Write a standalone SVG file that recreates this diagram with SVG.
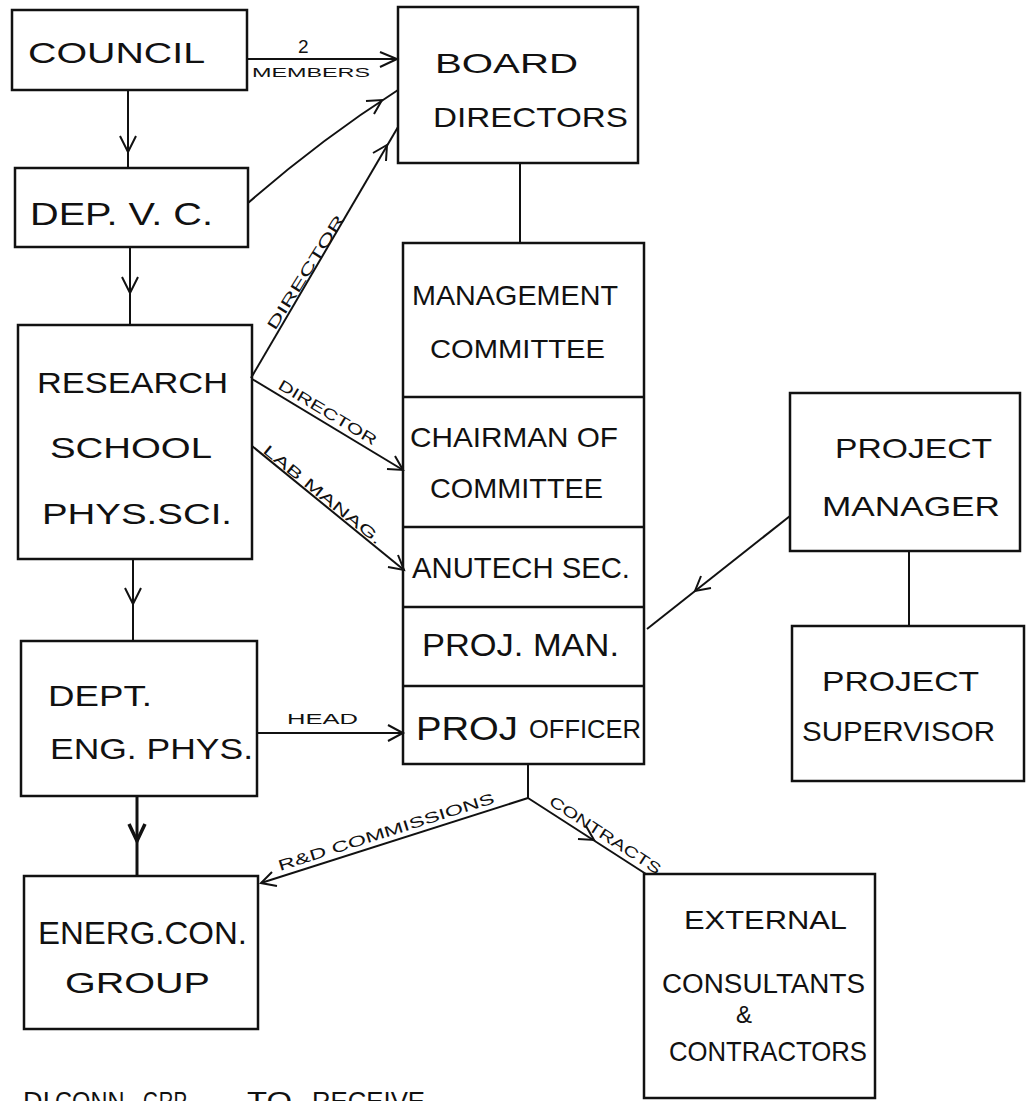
<svg xmlns="http://www.w3.org/2000/svg" width="1027" height="1101" viewBox="0 0 1027 1101">
<style>
.box{fill:none;stroke:#111;stroke-width:2.5}
.ln{fill:none;stroke:#111;stroke-width:2}
.ah{fill:none;stroke:#111;stroke-width:2}
.t{font-family:"Liberation Sans",Arial,sans-serif;fill:#111;font-size:28px}
.l{font-family:"Liberation Sans",Arial,sans-serif;fill:#111;font-size:14px}
.fn{font-family:"Liberation Sans",Arial,sans-serif;fill:#111;font-size:26px}
</style>
<rect width="1027" height="1101" fill="#fff"/>
<g id="connectors">
  <line class="ln" x1="128" y1="90" x2="128" y2="168"/>
  <polyline class="ah" points="120,136 128,152 136,136"/>
  <line class="ln" x1="130" y1="247" x2="130" y2="325"/>
  <polyline class="ah" points="122,277 130,293 138,277"/>
  <line class="ln" x1="133" y1="559" x2="133" y2="641"/>
  <polyline class="ah" points="125,588 133,604 141,588"/>
  <line class="ln" x1="137" y1="796" x2="137" y2="876" style="stroke-width:3"/>
  <polyline class="ah" points="129,824 137,841 145,824" style="stroke-width:3.5"/>
  <line class="ln" x1="247" y1="59" x2="398" y2="59"/>
  <polyline class="ah" points="380,52 397,59 380,67"/>
  <path class="ln" d="M248,203 Q320,140 398,90"/>
  <polyline class="ah" points="366,101 382,100 374,114"/>
  <line class="ln" x1="251" y1="378" x2="398" y2="127"/>
  <polyline class="ah" points="373,153 387,145 386,161"/>
  <line class="ln" x1="252" y1="379" x2="403" y2="470"/>
  <polyline class="ah" points="395,456 403,470 387,469"/>
  <line class="ln" x1="252" y1="446" x2="404" y2="570"/>
  <polyline class="ah" points="398,555 404,570 388,567"/>
  <line class="ln" x1="257" y1="733" x2="403" y2="733"/>
  <polyline class="ah" points="388,725 403,733 388,741"/>
  <line class="ln" x1="520" y1="163" x2="520" y2="243"/>
  <line class="ln" x1="909" y1="551" x2="909" y2="626"/>
  <line class="ln" x1="790" y1="516" x2="647" y2="629"/>
  <polyline class="ah" points="711,588 695,591 701,576"/>
  <line class="ln" x1="528" y1="764" x2="528" y2="798"/>
  <line class="ln" x1="528" y1="798" x2="261" y2="883"/>
  <polyline class="ah" points="277,886 261,883 272,872"/>
  <line class="ln" x1="528" y1="798" x2="646" y2="874"/>
  <polyline class="ah" points="586,826 594,840 578,839"/>
  <text class="l" x="298" y="53" style="font-size:19px">2</text>
  <text class="l" x="252" y="77" textLength="118" lengthAdjust="spacingAndGlyphs" style="font-size:13px">MEMBERS</text>
  <text class="l" transform="translate(275,331) rotate(-58)" textLength="132" lengthAdjust="spacingAndGlyphs" style="font-size:15px">DIRECTOR</text>
  <text class="l" transform="translate(277,388) rotate(31)" textLength="112" lengthAdjust="spacingAndGlyphs" style="font-size:15px">DIRECTOR</text>
  <text class="l" transform="translate(262,452) rotate(39)" textLength="148" lengthAdjust="spacingAndGlyphs" style="font-size:15px">LAB MANAG.</text>
  <text class="l" x="287" y="724" textLength="71" lengthAdjust="spacingAndGlyphs" style="font-size:15px">HEAD</text>
  <text class="l" transform="translate(280,871) rotate(-17.6)" textLength="226" lengthAdjust="spacingAndGlyphs" style="font-size:15px">R&amp;D COMMISSIONS</text>
  <text class="l" transform="translate(548,804) rotate(33)" textLength="130" lengthAdjust="spacingAndGlyphs" style="font-size:15px">CONTRACTS</text>
</g>
<g id="council">
  <rect class="box" x="12" y="10" width="235" height="80"/>
  <text class="t" x="28" y="63" textLength="177" lengthAdjust="spacingAndGlyphs" style="font-size:29px">COUNCIL</text>
</g>
<g id="board-directors">
  <rect class="box" x="398" y="7" width="240" height="156"/>
  <text class="t" x="435" y="73" textLength="143" lengthAdjust="spacingAndGlyphs">BOARD</text>
  <text class="t" x="433" y="127" textLength="195" lengthAdjust="spacingAndGlyphs">DIRECTORS</text>
</g>
<g id="dep-vc">
  <rect class="box" x="15" y="168" width="233" height="79"/>
  <text class="t" x="30" y="225" textLength="183" lengthAdjust="spacingAndGlyphs" style="font-size:31px">DEP. V. C.</text>
</g>
<g id="research-school">
  <rect class="box" x="18" y="325" width="234" height="234"/>
  <text class="t" x="37" y="393" textLength="191" lengthAdjust="spacingAndGlyphs" style="font-size:30px">RESEARCH</text>
  <text class="t" x="50" y="458" textLength="162" lengthAdjust="spacingAndGlyphs" style="font-size:30px">SCHOOL</text>
  <text class="t" x="42" y="524" textLength="190" lengthAdjust="spacingAndGlyphs" style="font-size:30px">PHYS.SCI.</text>
</g>
<g id="dept-eng-phys">
  <rect class="box" x="21" y="641" width="236" height="155"/>
  <text class="t" x="48" y="706" textLength="104" lengthAdjust="spacingAndGlyphs" style="font-size:30px">DEPT.</text>
  <text class="t" x="50" y="759" textLength="203" lengthAdjust="spacingAndGlyphs" style="font-size:30px">ENG. PHYS.</text>
</g>
<g id="energ-con-group">
  <rect class="box" x="24" y="876" width="234" height="153"/>
  <text class="t" x="38" y="944" textLength="209" lengthAdjust="spacingAndGlyphs" style="font-size:32px">ENERG.CON.</text>
  <text class="t" x="65" y="993" textLength="145" lengthAdjust="spacingAndGlyphs" style="font-size:30px">GROUP</text>
</g>
<g id="management-stack">
  <rect class="box" x="403" y="243" width="241" height="521"/>
  <line class="box" x1="403" y1="397" x2="644" y2="397"/>
  <line class="box" x1="403" y1="527" x2="644" y2="527"/>
  <line class="box" x1="403" y1="607" x2="644" y2="607"/>
  <line class="box" x1="403" y1="686" x2="644" y2="686"/>
  <text class="t" x="412" y="305" textLength="206" lengthAdjust="spacingAndGlyphs">MANAGEMENT</text>
  <text class="t" x="430" y="358" textLength="175" lengthAdjust="spacingAndGlyphs" style="font-size:26px">COMMITTEE</text>
  <text class="t" x="410" y="447" textLength="208" lengthAdjust="spacingAndGlyphs">CHAIRMAN  OF</text>
  <text class="t" x="430" y="498" textLength="173" lengthAdjust="spacingAndGlyphs">COMMITTEE</text>
  <text class="t" x="412" y="578" textLength="218" lengthAdjust="spacingAndGlyphs" style="font-size:30px">ANUTECH SEC.</text>
  <text class="t" x="422" y="656" textLength="197" lengthAdjust="spacingAndGlyphs" style="font-size:32px">PROJ. MAN.</text>
  <text class="t" x="416" y="740" textLength="102" lengthAdjust="spacingAndGlyphs" style="font-size:34px">PROJ</text>
  <text class="t" x="529" y="738" textLength="112" lengthAdjust="spacingAndGlyphs" style="font-size:26px">OFFICER</text>
</g>
<g id="project-manager">
  <rect class="box" x="790" y="393" width="230" height="158"/>
  <text class="t" x="835" y="458" textLength="157" lengthAdjust="spacingAndGlyphs">PROJECT</text>
  <text class="t" x="822" y="516" textLength="178" lengthAdjust="spacingAndGlyphs">MANAGER</text>
</g>
<g id="project-supervisor">
  <rect class="box" x="792" y="626" width="232" height="155"/>
  <text class="t" x="822" y="691" textLength="157" lengthAdjust="spacingAndGlyphs">PROJECT</text>
  <text class="t" x="802" y="741" textLength="193" lengthAdjust="spacingAndGlyphs">SUPERVISOR</text>
</g>
<g id="external">
  <rect class="box" x="644" y="874" width="231" height="224"/>
  <text class="t" x="684" y="929" textLength="163" lengthAdjust="spacingAndGlyphs" style="font-size:26px">EXTERNAL</text>
  <text class="t" x="662" y="993" textLength="203" lengthAdjust="spacingAndGlyphs" style="font-size:27px">CONSULTANTS</text>
  <text class="t" x="736" y="1023" style="font-size:24px">&amp;</text>
  <text class="t" x="669" y="1061" textLength="198" lengthAdjust="spacingAndGlyphs">CONTRACTORS</text>
</g>
<g id="footnote">
  <text class="fn" x="23" y="1110" textLength="27" lengthAdjust="spacingAndGlyphs">DI</text>
  <text class="fn" x="55" y="1110" textLength="76" lengthAdjust="spacingAndGlyphs">CONN.</text>
  <text class="fn" x="143" y="1110" textLength="47" lengthAdjust="spacingAndGlyphs">GRP.</text>
  <text class="fn" x="247" y="1110" textLength="45" lengthAdjust="spacingAndGlyphs">TO</text>
  <text class="fn" x="312" y="1110" textLength="113" lengthAdjust="spacingAndGlyphs">RECEIVE</text>
</g>
</svg>
